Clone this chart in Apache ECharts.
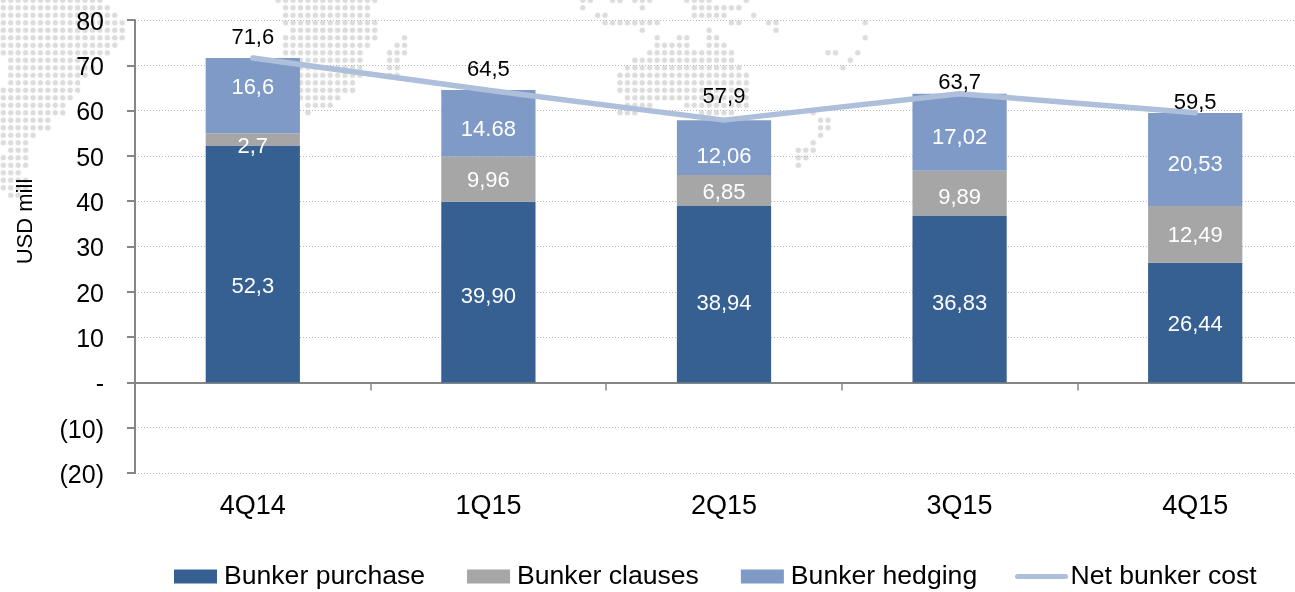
<!DOCTYPE html>
<html>
<head>
<meta charset="utf-8">
<title>Net bunker cost</title>
<script src="https://cdn.jsdelivr.net/npm/echarts@6/dist/echarts.min.js"></script>
<style>
  html, body { margin: 0; padding: 0; background: #fff; }
  #chart { width: 1295px; height: 592px; }
</style>
</head>
<body>
<div id="chart"></div>
<script>
// data
const quarters = ['4Q14', '1Q15', '2Q15', '3Q15', '4Q15']
const bunkerPurchase = [52.3, 39.90, 38.94, 36.83, 26.44]
const bunkerClauses = [2.7, 9.96, 6.85, 9.89, 12.49]
const bunkerHedging = [16.6, 14.68, 12.06, 17.02, 20.53]
const netBunkerCost = [71.6, 64.5, 57.9, 63.7, 59.5]

// labels as printed (mixed decimals in the source)
const purchaseLabels = ['52,3', '39,90', '38,94', '36,83', '26,44']
const clausesLabels = ['2,7', '9,96', '6,85', '9,89', '12,49']
const hedgingLabels = ['16,6', '14.68', '12,06', '17,02', '20,53']
const netLabels = ['71,6', '64,5', '57,9', '63,7', '59,5']

// the labels were hand placed in the source, px up/down from default
const purchaseNudge = [23, 5, 10, 5, 2]
const clausesNudge = [8, 2, 2, 5, 2]
const hedgingNudge = [-8, 7, 9, 6, 5]
const netNudge = [-4, -4, -7, 6, 7]

// background dot map: [row, firstCol, lastCol]
const mapRuns = [
  [0,0,13],[1,0,14],[2,0,15],[3,0,16],[4,0,16],[5,0,16],[6,0,15],[7,0,14],
  [8,1,11],[9,1,12],[10,1,11],[11,1,10],[12,0,10],[13,0,9],[14,0,8],[15,0,8],
  [16,0,6],[17,0,6],[18,0,4],[19,0,3],[20,1,3],[21,0,3],[22,0,3],[23,0,2],[24,0,3],[25,0,3],[26,1,2],
  [0,37,50],[1,38,49],[2,38,49],[3,38,50],[4,39,50],[5,38,50],[6,38,49],[7,38,48],[8,38,48],
  [9,38,48],[10,38,48],[11,38,47],[12,38,47],[13,38,45],[14,41,44],[15,41,41],
  [5,54,54],[6,53,54],[7,52,54],[8,52,53],[9,52,53],[10,52,53],
  [0,78,79],[0,82,83],[0,85,87],[0,92,95],[0,100,100],[1,78,78],[1,86,86],[1,93,99],
  [2,80,81],[2,93,97],[2,101,101],[3,81,88],[3,98,99],[3,103,104],[3,116,116],
  [4,86,86],[4,95,95],[4,104,104],[5,88,88],[5,91,92],[5,95,96],[5,116,116],
  [6,88,92],[6,95,97],[7,87,98],[7,111,112],[7,115,115],[8,85,98],[8,114,114],
  [9,84,99],[9,113,113],[10,83,100],[11,83,100],[12,83,100],[13,84,100],
  [14,84,87],[14,92,100],[15,83,85],[15,94,98],[15,109,109],
  [16,110,111],[17,110,111],[18,110,110],[19,109,109],[20,107,109],[21,107,108],[22,107,107]
]

const fontFamily = '"Liberation Sans", Arial, sans-serif'

function mapDots() {
  const dots = []
  mapRuns.forEach(([row, first, last]) => {
    for (let c = first; c <= last; c++) {
      dots.push({
        type: 'circle',
        silent: true,
        z: -10,
        shape: { cx: 3.3 + c * 7.43, cy: 0.2 + row * 7.5, r: 2.5 },
        style: { fill: '#dcdcdc', shadowBlur: 2, shadowColor: '#e4e4e4' }
      })
    }
  })
  return dots
}

function withLabels(values, labels, nudge) {
  return values.map((v, i) => ({
    value: v,
    label: { formatter: labels[i], offset: [0, nudge[i]] }
  }))
}

function stackBar(name, values, labels, nudge, color) {
  return {
    name,
    type: 'bar',
    stack: 'cost',
    barWidth: '40%',
    itemStyle: { color },
    label: { show: true, position: 'inside', color: '#fff', fontSize: 22, fontFamily },
    data: withLabels(values, labels, nudge)
  }
}

const chart = echarts.init(document.getElementById('chart'))
chart.setOption({
  animation: false,
  backgroundColor: '#fff',
  graphic: { elements: mapDots() },
  grid: { left: 135, top: 20, width: 1178, height: 453, outerBoundsMode: 'none' },
  legend: [
    {
      left: 169,
      top: 558,
      itemWidth: 43,
      itemHeight: 14,
      itemGap: 42,
      textStyle: { fontSize: 26.6, color: '#000', fontFamily, padding: [0, 0, 0, 2] },
      data: [
        { name: 'Bunker purchase', icon: 'rect' },
        { name: 'Bunker clauses', icon: 'rect' },
        { name: 'Bunker hedging', icon: 'rect' }
      ]
    },
    {
      left: 1010,
      top: 558,
      itemWidth: 48,
      itemHeight: 14,
      textStyle: { fontSize: 26.6, color: '#000', fontFamily },
      data: [
        {
          name: 'Net bunker cost',
          itemStyle: { opacity: 0 },
          lineStyle: { color: '#aebfdb', width: 5, cap: 'round' }
        }
      ]
    }
  ],
  xAxis: [
    {
      type: 'category',
      data: quarters,
      axisLine: { onZero: true, lineStyle: { color: '#868686', width: 2 } },
      axisTick: { show: true, length: 8, lineStyle: { color: '#868686', width: 1.5 } },
      axisLabel: { show: false }
    },
    {
      type: 'category',
      data: quarters,
      position: 'bottom',
      axisLine: { show: false, onZero: false },
      axisTick: { show: false },
      axisLabel: { color: '#000', fontSize: 27, margin: 20, fontFamily }
    }
  ],
  yAxis: {
    type: 'value',
    min: -20,
    max: 80,
    interval: 10,
    name: 'USD mill',
    nameLocation: 'middle',
    nameRotate: 90,
    nameGap: 98,
    nameTextStyle: { color: '#000', fontSize: 22, fontFamily, padding: [0, 0, 0, 50] },
    axisLine: { show: true, onZero: false, lineStyle: { color: '#868686', width: 2 } },
    axisTick: { show: true, length: 8, lineStyle: { color: '#868686', width: 2 } },
    axisLabel: {
      margin: 31,
      formatter: v => '{v|' + (v === 0 ? '-' : v < 0 ? '(' + Math.abs(v) + ')' : v) + '}',
      rich: { v: { color: '#000', fontSize: 25, fontFamily, padding: [6, 0, 0, 0] } }
    },
    splitLine: { show: true, lineStyle: { color: '#b8b8b8', type: [1, 2], width: 1 } }
  },
  series: [
    stackBar('Bunker purchase', bunkerPurchase, purchaseLabels, purchaseNudge, '#376092'),
    stackBar('Bunker clauses', bunkerClauses, clausesLabels, clausesNudge, '#a6a6a6'),
    stackBar('Bunker hedging', bunkerHedging, hedgingLabels, hedgingNudge, '#7f9ac6'),
    {
      name: 'Net bunker cost',
      type: 'line',
      z: 5,
      symbol: 'circle',
      symbolSize: 1,
      lineStyle: { color: '#aebfdb', width: 5.5, cap: 'round' },
      itemStyle: { color: '#aebfdb' },
      label: { show: true, position: 'top', color: '#000', fontSize: 22, fontFamily },
      data: withLabels(netBunkerCost, netLabels, netNudge)
    }
  ]
})
</script>
</body>
</html>
